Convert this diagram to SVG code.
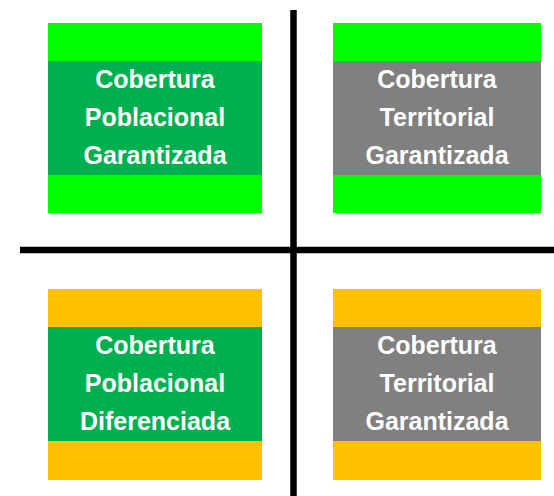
<svg xmlns="http://www.w3.org/2000/svg" width="554" height="496" viewBox="0 0 554 496">
<style>
.lg{fill:#00FF00}
.or{fill:#FFC000}
.dg{fill:#00B050}
.gr{fill:#808080}
text{font-family:"Liberation Sans",Arial,sans-serif;font-weight:bold;font-size:25px;fill:#FFFFFF;text-anchor:middle}
.ln{stroke:#000000;stroke-width:6.5;fill:none}
</style>
<rect width="554" height="496" fill="#FFFFFF"/>
<g id="q1">
<rect class="lg" x="48" y="23" width="214" height="190"/>
<rect class="dg" x="48" y="61" width="214" height="114"/>
<text x="155" y="88">Cobertura</text>
<text x="155" y="126">Poblacional</text>
<text x="155" y="164">Garantizada</text>
</g>
<g id="q2">
<rect class="lg" x="333" y="23" width="208" height="190"/>
<rect class="gr" x="333" y="61" width="208" height="114"/>
<text x="437" y="88">Cobertura</text>
<text x="437" y="126">Territorial</text>
<text x="437" y="164">Garantizada</text>
</g>
<g id="q3">
<rect class="or" x="48" y="289" width="214" height="191"/>
<rect class="dg" x="48" y="327" width="214" height="114"/>
<text x="155" y="354">Cobertura</text>
<text x="155" y="392">Poblacional</text>
<text x="155" y="430">Diferenciada</text>
</g>
<g id="q4">
<rect class="or" x="333" y="289" width="208" height="191"/>
<rect class="gr" x="333" y="327" width="208" height="114"/>
<text x="437" y="354">Cobertura</text>
<text x="437" y="392">Territorial</text>
<text x="437" y="430">Garantizada</text>
</g>
<g id="connectors">
<line class="ln" x1="293.5" y1="10" x2="293.5" y2="496"/>
<line class="ln" x1="20" y1="250" x2="554" y2="250"/>
</g>
</svg>
